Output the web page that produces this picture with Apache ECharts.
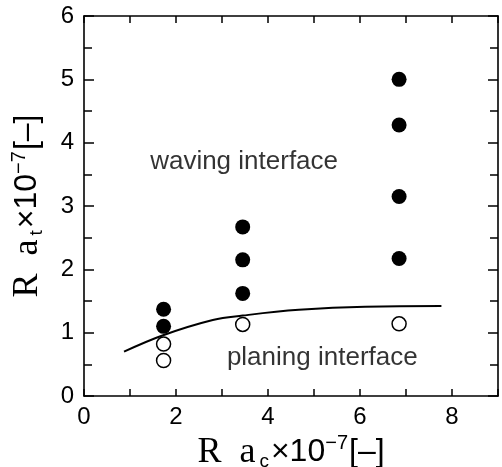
<!DOCTYPE html>
<html>
<head>
<meta charset="utf-8">
<script src="https://cdn.jsdelivr.net/npm/echarts@6/dist/echarts.min.js"></script>
<style>
html,body{margin:0;padding:0;background:#fff;}
#main{width:502px;height:467px;}
</style>
</head>
<body>
<div id="main"></div>
<script>
// waving (filled) and planing (open) points, [Ra_c, Ra_t]
var wavingPts = [[1.73,1.37],[1.73,1.10],[3.45,2.67],[3.45,2.15],[3.45,1.62],[6.85,5.0],[6.85,4.28],[6.85,3.15],[6.85,2.17]];
var planingPts = [[1.73,0.82],[1.73,0.56],[3.45,1.13],[6.85,1.14]];
var boundary = [[0.87,0.70],[1.72,0.96],[2.8,1.20],[3.45,1.27],[4.67,1.36],[6.11,1.41],[7.77,1.42]];
var regionLabels = [
	{name:'waving interface', value:[3.48,3.69]},
	{name:'planing interface', value:[5.18,0.60]}
];

var sans = 'Liberation Sans, Arial, Helvetica, sans-serif';
var serif = 'Liberation Serif, Times New Roman, serif';
var nameRich = {
	r:{fontFamily:serif,fontSize:36,color:'#000'},
	s:{fontFamily:sans,fontSize:19,color:'#000',verticalAlign:'bottom',padding:[18,2,0,4]},
	x:{fontFamily:sans,fontSize:32,color:'#000'},
	p:{fontFamily:sans,fontSize:20,color:'#000',verticalAlign:'top',padding:[0,1,16,0]}
};

var dom = document.getElementById('main');
var myChart = echarts.init(dom);
var axLine = {onZero:false,lineStyle:{color:'#000',width:1.6}};
var tickStyle = {color:'#000',width:1.5};
var option = {
	animation:false,
	grid:{left:84,right:4,top:16,bottom:71,containLabel:false,outerBoundsMode:'none'},
	xAxis:[{
		type:'value',min:0,max:9,interval:1,
		axisLine:axLine,
		axisTick:{inside:true,length:7,lineStyle:tickStyle},
		splitLine:{show:false},
		axisLabel:{fontFamily:sans,fontSize:24,color:'#000',margin:9,
			formatter:function(v){return (v%2===0 && v<9)?String(v):'';}},
		name:'{r|R  a}{s|c}{x|×10}{p|−7}{x|[–]}',
		nameLocation:'middle',nameGap:32,
		nameTextStyle:{rich:nameRich}
	},{
		type:'value',min:0,max:9,interval:1,position:'top',
		axisLine:axLine,
		axisTick:{inside:true,length:7,lineStyle:tickStyle},
		axisLabel:{show:false},splitLine:{show:false}
	}],
	yAxis:[{
		type:'value',min:0,max:6,interval:1,
		axisLine:axLine,
		axisTick:{inside:true,length:10,lineStyle:tickStyle},
		minorTick:{show:true,splitNumber:2,length:8,lineStyle:tickStyle},
		splitLine:{show:false},
		axisLabel:{fontFamily:sans,fontSize:24,color:'#000',margin:10},
		name:'{r|R  a}{s|t}{x|×10}{p|−7}{x|[–]}',
		nameLocation:'middle',nameGap:38,
		nameTextStyle:{rich:nameRich}
	},{
		type:'value',min:0,max:6,interval:1,position:'right',
		axisLine:axLine,
		axisTick:{inside:true,length:10,lineStyle:tickStyle},
		minorTick:{show:true,splitNumber:2,length:8,lineStyle:tickStyle},
		axisLabel:{show:false},splitLine:{show:false}
	}],
	series:[{
		type:'line',data:boundary,smooth:0.4,showSymbol:false,
		lineStyle:{color:'#000',width:2}
	},{
		type:'scatter',data:wavingPts,symbol:'circle',symbolSize:15,
		itemStyle:{color:'#000',opacity:1}
	},{
		type:'scatter',data:planingPts,symbol:'circle',symbolSize:14,
		itemStyle:{color:'#fff',borderColor:'#000',borderWidth:1.5,opacity:1}
	},{
		type:'scatter',data:regionLabels,symbolSize:0,
		label:{show:true,position:'inside',formatter:'{b}',fontFamily:sans,fontSize:26,color:'#000'}
	}]
};
if (option && typeof option === "object") {
	myChart.setOption(option, true);
}
</script>
</body>
</html>
